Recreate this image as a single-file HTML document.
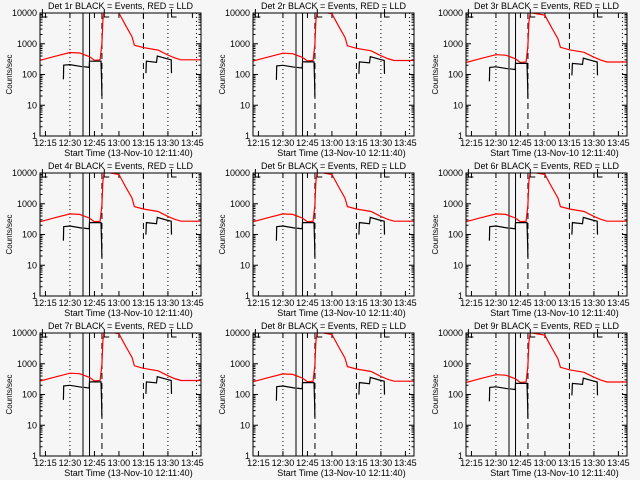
<!DOCTYPE html>
<html><head><meta charset="utf-8">
<style>
html,body{margin:0;padding:0;background:#f6f6f6;}
svg{display:block;}
text{font-family:"Liberation Sans",sans-serif;font-size:9px;fill:#000;}
</style></head>
<body>
<svg id="chart" width="640" height="480" xmlns="http://www.w3.org/2000/svg">
<rect width="640" height="480" fill="#f6f6f6"/>
</svg>
<script>
// Data (time in minutes after 12:00, counts/sec)
const detNames = ["1r","2r","3r","4r","5r","6r","7r","8r","9r"];
const panelScale = [1.0,0.95,0.85,0.9,0.9,0.9,0.95,0.9,0.85];
const redT = [11.7,20,30,36,42,45,48.5,49.6,50.2,51,60,64,68,69.5,75,84,90,94,98,110];
const redV = [290,380,520,500,380,290,300,1000,6000,12000,10000,4000,1700,900,750,620,430,350,300,300];
const blackT = [26,26.2,30,37.5,null,38.5,41.8,42,49,49.4,49.6,null,76.5,76.8,83,83.5,89,92,92.2];
const blackV = [70,200,210,180,null,180,170,270,270,60,20,null,110,270,250,400,330,300,110];
const tickLabels = ["12:15","12:30","12:45","13:00","13:15","13:30","13:45"];
const tickTimes = [15,30,45,60,75,90,105];
const yTickVals = [1,10,100,1000,10000];
const yTickLabels = ["1","10","100","1000","10000"];
const dottedT = [30,90,107.5];
const solidT = [38,42];
const dashedT = [49.6,75];

const NS="http://www.w3.org/2000/svg";
const svg=document.getElementById('chart');
function mk(tag,attrs,parent){const e=document.createElementNS(NS,tag);for(const k in attrs)e.setAttribute(k,attrs[k]);(parent||svg).appendChild(e);return e;}

const L=40,R=201,T=13,B=136;
function xs(t){return L+(t-11.667)*1.633;}
function ys(v){return B-30.75*Math.log10(v);}

for(let p=0;p<9;p++){
  const ox=(p%3)*213, oy=Math.floor(p/3)*160;
  const g=mk('g',{transform:`translate(${ox},${oy})`});
  
  
  const cp=mk('clipPath',{id:'cp'+p},g);
  mk('rect',{x:L,y:T,width:R-L,height:B-T},cp);

  const title=mk('text',{x:(L+R)/2,y:9,'text-anchor':'middle'},g);
  title.textContent=`Det ${detNames[p]} BLACK = Events, RED = LLD`;
  
  

  const yl=mk('text',{x:0,y:0,'text-anchor':'middle',transform:`translate(12,${(T+B)/2}) rotate(-90)`,style:'font-size:8px'},g);
  yl.textContent='Counts/sec';
  
  

  const xl=mk('text',{x:(L+R)/2+8,y:156,'text-anchor':'middle'},g);
  xl.textContent='Start Time (13-Nov-10 12:11:40)';
  
  

  // y ticks
  yTickVals.forEach((v,i)=>{
    const y=ys(v);
    const t=mk('text',{x:L-3,y:y+3,'text-anchor':'end'},g);
    t.textContent=yTickLabels[i];
    
    
    mk('line',{x1:L,x2:L+5,y1:y,y2:y,stroke:'#000'},g);
    mk('line',{x1:R,x2:R-5,y1:y,y2:y,stroke:'#000'},g);
    if(i<yTickVals.length-1){
      for(let m=2;m<10;m++){const yy=ys(v*m);
        mk('line',{x1:L,x2:L+2.5,y1:yy,y2:yy,stroke:'#000'},g);
        mk('line',{x1:R,x2:R-2.5,y1:yy,y2:yy,stroke:'#000'},g);}
    }
  });
  // x ticks
  tickTimes.forEach((tt,i)=>{
    const x=xs(tt);
    const t=mk('text',{x:x,y:146,'text-anchor':'middle'},g);
    t.textContent=tickLabels[i];
    
    
    mk('line',{x1:x,x2:x,y1:B,y2:B-5,stroke:'#000'},g);
    mk('line',{x1:x,x2:x,y1:T,y2:T+5,stroke:'#000'},g);
  });
  // vertical markers
  dottedT.forEach(tt=>{const l=mk('line',{x1:xs(tt),x2:xs(tt),y1:T,y2:B,stroke:'#000','stroke-dasharray':'1,3'},g);
    });
  solidT.forEach(tt=>{const l=mk('line',{x1:xs(tt),x2:xs(tt),y1:T,y2:B,stroke:'#000'},g);
    });
  dashedT.forEach(tt=>{const l=mk('line',{x1:xs(tt),x2:xs(tt),y1:T,y2:B,stroke:'#000','stroke-dasharray':'6,4'},g);
    });
  // top brackets
  [11.9,49.8,91].forEach(tt=>{const x=xs(tt)+2;
    mk('path',{d:`M${x},${T-4}V${T+4}H${x+5}`,fill:'none',stroke:'#000'},g);});

  // red series
  const s=panelScale[p];
  let d='';
  redT.forEach((tt,i)=>{d+=(i?'L':'M')+xs(tt).toFixed(1)+','+ys(redV[i]*s).toFixed(1);});
  const rp=mk('path',{d:d,fill:'none',stroke:'#ff0000','stroke-width':1.2,'clip-path':`url(#cp${p})`},g);
  
  
  // black series (step-like)
  let bd='',pen=false;
  blackT.forEach((tt,i)=>{
    if(tt===null){pen=false;return;}
    bd+=(pen?'L':'M')+xs(tt).toFixed(1)+','+ys(blackV[i]*s).toFixed(1);pen=true;});
  const bp=mk('path',{d:bd,fill:'none',stroke:'#000','stroke-width':1.2,'clip-path':`url(#cp${p})`},g);
  
  

  const box=mk('rect',{x:L,y:T,width:R-L,height:B-T,fill:'none',stroke:'#000'},g);
  
  
}
</script>
</body></html>
